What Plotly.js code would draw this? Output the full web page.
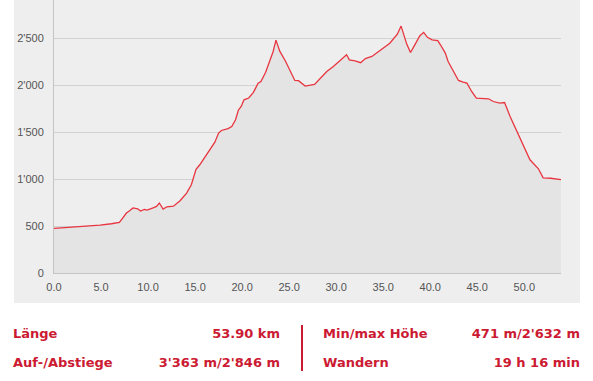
<!DOCTYPE html>
<html>
<head>
<meta charset="utf-8">
<script src="https://cdn.plot.ly/plotly-3.0.1.min.js"></script>
<style>
  html, body { margin: 0; padding: 0; background: #ffffff; width: 593px; height: 381px; overflow: hidden; }
  #chart { position: absolute; left: 14px; top: 0px; width: 566px; height: 303px; }
  .stat { position: absolute; font-family: "DejaVu Sans", Verdana, sans-serif; font-weight: bold; font-size: 13px; line-height: 16px; color: #cc1a33; white-space: nowrap; }
  .divider { position: absolute; left: 301px; top: 325px; width: 2px; height: 46px; background: #cc1a33; }
</style>
</head>
<body>
<div id="chart"></div>
<div class="stat" id="l1" style="left:13px; top:326px;"></div>
<div class="stat" id="v1" style="right:313px; top:326px; text-align:right;"></div>
<div class="stat" id="l2" style="left:13px; top:355px;"></div>
<div class="stat" id="v2" style="right:313px; top:355px; text-align:right;"></div>
<div class="divider"></div>
<div class="stat" id="l3" style="left:323px; top:326px;"></div>
<div class="stat" id="v3" style="right:13px; top:326px; text-align:right;"></div>
<div class="stat" id="l4" style="left:323px; top:355px;"></div>
<div class="stat" id="v4" style="right:13px; top:355px; text-align:right;"></div>
<script>
// Elevation profile: distance (km) and altitude (m)
const distanceKm = [
  0.0, 1.5, 3.1, 4.9, 6.1, 6.95, 7.3, 7.7, 8.0, 8.4, 8.9, 9.2, 9.6, 9.9, 10.6, 10.9, 11.2, 11.6, 12.0, 12.7,
  13.4, 14.1, 14.6, 14.9, 15.1, 15.5, 16.1, 16.6, 17.1, 17.5, 17.8, 18.5, 18.9, 19.3, 19.6, 19.9, 20.2, 20.7,
  21.2, 21.7, 22.0, 22.5, 23.0, 23.3, 23.6, 24.0, 24.6, 25.1, 25.6, 26.0, 26.7, 27.7, 28.3, 29.0, 29.7, 30.4,
  31.1, 31.4, 32.0, 32.6, 33.1, 33.8, 34.3, 35.0, 35.7, 36.5, 36.9, 37.5, 37.9, 38.3, 38.9, 39.3, 39.7, 40.2,
  40.8, 41.1, 41.6, 41.9, 42.5, 43.0, 43.5, 43.9, 44.4, 44.9, 46.2, 46.7, 47.4, 47.9, 48.5, 49.4, 50.6, 51.5,
  52.0, 52.8, 53.9
];
const altitudeM = [
  475, 485, 496, 510, 525, 539, 585, 639, 660, 694, 685, 660, 678, 671, 696, 710, 746, 682, 706, 712,
  770, 852, 941, 1030, 1105, 1154, 1245, 1320, 1395, 1491, 1519, 1540, 1562, 1633, 1735, 1775, 1846, 1865,
  1925, 2024, 2041, 2140, 2272, 2361, 2482, 2365, 2260, 2150, 2052, 2050, 1992, 2010, 2077, 2148, 2201, 2265,
  2326, 2272, 2262, 2242, 2286, 2308, 2344, 2403, 2450, 2545, 2632, 2440, 2350, 2421, 2530, 2565, 2512, 2486,
  2478, 2430, 2344, 2254, 2148, 2052, 2035, 2024, 1935, 1864, 1857, 1828, 1811, 1817, 1665, 1465, 1207, 1111,
  1015, 1010, 995
];
const xTickVals = [0, 5, 10, 15, 20, 25, 30, 35, 40, 45, 50];
const yTickVals = [0, 500, 1000, 1500, 2000, 2500];

// Summary texts
const statLabels = ["Länge", "Auf-/Abstiege", "Min/max Höhe", "Wandern"];
const statValues = ["53.90 km", "3'363 m/2'846 m", "471 m/2'632 m", "19 h 16 min"];

document.getElementById('l1').textContent = statLabels[0];
document.getElementById('v1').textContent = statValues[0];
document.getElementById('l2').textContent = statLabels[1];
document.getElementById('v2').textContent = statValues[1];
document.getElementById('l3').textContent = statLabels[2];
document.getElementById('v3').textContent = statValues[2];
document.getElementById('l4').textContent = statLabels[3];
document.getElementById('v4').textContent = statValues[3];

const trace = {
  x: distanceKm,
  y: altitudeM,
  type: 'scatter',
  mode: 'lines',
  fill: 'tozeroy',
  fillcolor: '#e4e4e4',
  line: { color: '#e8353f', width: 1.3 },
  hoverinfo: 'skip'
};

const layout = {
  width: 566,
  height: 303,
  margin: { l: 40, r: 19, t: 0, b: 30, pad: 0 },
  paper_bgcolor: '#eeeeee',
  plot_bgcolor: '#eeeeee',
  separators: ".'",
  showlegend: false,
  font: { family: '"Liberation Sans", Arial, sans-serif', size: 11, color: '#555555' },
  xaxis: {
    range: [0, 53.9],
    tickvals: xTickVals,
    tickformat: '.1f',
    showgrid: false,
    zeroline: false,
    showline: true,
    linecolor: '#c4c4c4',
    linewidth: 1,
    ticks: 'outside',
    ticklen: 0,
    ticklabelstandoff: 4,
    tickfont: { size: 11, color: '#555555' }
  },
  yaxis: {
    range: [0, 2910],
    tickvals: yTickVals,
    tickformat: ',d',
    showgrid: true,
    gridcolor: '#d2d2d2',
    gridwidth: 1,
    zeroline: false,
    showline: true,
    linecolor: '#c4c4c4',
    linewidth: 1,
    ticks: 'outside',
    ticklen: 0,
    ticklabelstandoff: 7,
    tickfont: { size: 11, color: '#555555' }
  }
};

Plotly.newPlot('chart', [trace], layout, { displayModeBar: false, staticPlot: true });
</script>
</body>
</html>
